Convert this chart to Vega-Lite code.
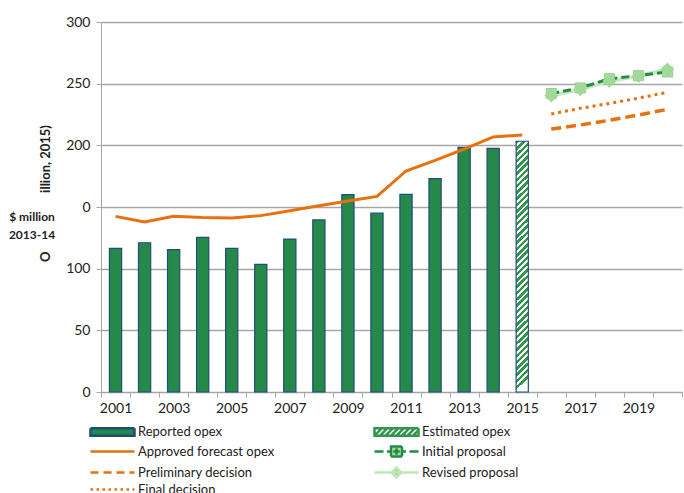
{
  "$schema": "https://vega.github.io/schema/vega-lite/v6.json",
  "width": 581,
  "height": 370,
  "autosize": {"type": "none"},
  "padding": {"left": 101, "top": 22, "right": 2, "bottom": 101},
  "background": "white",
  "title": {"text": ["$ million", "2013-14"], "orient": "top", "anchor": "start", "frame": "group", "align": "center", "baseline": "top", "dx": -69, "dy": 227, "offset": 0, "font": "Lato", "fontSize": 12, "fontWeight": "bold", "color": "#222222", "lineHeight": 18},
  "config": {"view": {"stroke": null}, "font": "Lato"},
  "data": {"values": [
    {"year": 2001, "series": "Reported opex", "value": 116.5},
    {"year": 2002, "series": "Reported opex", "value": 121},
    {"year": 2003, "series": "Reported opex", "value": 115.4},
    {"year": 2004, "series": "Reported opex", "value": 125.4},
    {"year": 2005, "series": "Reported opex", "value": 116.5},
    {"year": 2006, "series": "Reported opex", "value": 103.5},
    {"year": 2007, "series": "Reported opex", "value": 124},
    {"year": 2008, "series": "Reported opex", "value": 139.5},
    {"year": 2009, "series": "Reported opex", "value": 160},
    {"year": 2010, "series": "Reported opex", "value": 145},
    {"year": 2011, "series": "Reported opex", "value": 160.3},
    {"year": 2012, "series": "Reported opex", "value": 173},
    {"year": 2013, "series": "Reported opex", "value": 198.4},
    {"year": 2014, "series": "Reported opex", "value": 197.6},
    {"year": 2015, "series": "Estimated opex", "value": 203.3},
    {"year": 2001, "series": "Approved forecast opex", "value": 142.4},
    {"year": 2002, "series": "Approved forecast opex", "value": 137.8},
    {"year": 2003, "series": "Approved forecast opex", "value": 142.4},
    {"year": 2004, "series": "Approved forecast opex", "value": 141.4},
    {"year": 2005, "series": "Approved forecast opex", "value": 141.1},
    {"year": 2006, "series": "Approved forecast opex", "value": 143},
    {"year": 2007, "series": "Approved forecast opex", "value": 147},
    {"year": 2008, "series": "Approved forecast opex", "value": 151},
    {"year": 2009, "series": "Approved forecast opex", "value": 154.9},
    {"year": 2010, "series": "Approved forecast opex", "value": 158.6},
    {"year": 2011, "series": "Approved forecast opex", "value": 179.2},
    {"year": 2012, "series": "Approved forecast opex", "value": 187.8},
    {"year": 2013, "series": "Approved forecast opex", "value": 197},
    {"year": 2014, "series": "Approved forecast opex", "value": 206.8},
    {"year": 2015, "series": "Approved forecast opex", "value": 208.4},
    {"year": 2016, "series": "Initial proposal", "value": 242},
    {"year": 2017, "series": "Initial proposal", "value": 246.5},
    {"year": 2018, "series": "Initial proposal", "value": 254},
    {"year": 2019, "series": "Initial proposal", "value": 256.5},
    {"year": 2020, "series": "Initial proposal", "value": 259.5},
    {"year": 2016, "series": "Revised proposal", "value": 240.3},
    {"year": 2017, "series": "Revised proposal", "value": 245.4},
    {"year": 2018, "series": "Revised proposal", "value": 252.2},
    {"year": 2019, "series": "Revised proposal", "value": 256.2},
    {"year": 2020, "series": "Revised proposal", "value": 261.5},
    {"year": 2016, "series": "Preliminary decision", "value": 213.2},
    {"year": 2017, "series": "Preliminary decision", "value": 216.5},
    {"year": 2018, "series": "Preliminary decision", "value": 220.3},
    {"year": 2019, "series": "Preliminary decision", "value": 224.6},
    {"year": 2020, "series": "Preliminary decision", "value": 229.2},
    {"year": 2016, "series": "Final decision", "value": 225.4},
    {"year": 2017, "series": "Final decision", "value": 230},
    {"year": 2018, "series": "Final decision", "value": 234},
    {"year": 2019, "series": "Final decision", "value": 238.3},
    {"year": 2020, "series": "Final decision", "value": 243}
  ]},
  "encoding": {
    "x": {"field": "year", "type": "ordinal",
      "scale": {"domain": [2001,2002,2003,2004,2005,2006,2007,2008,2009,2010,2011,2012,2013,2014,2015,2016,2017,2018,2019,2020], "paddingInner": 0, "paddingOuter": 0},
      "axis": {"title": null, "labelExpr": "datum.value % 2 == 1 ? datum.label : ''", "labelAngle": 0, "labelOverlap": false, "tickBand": "extent", "ticks": true, "tickSize": 5, "tickColor": "#A6A6A6", "tickWidth": 1, "domainColor": "#A6A6A6", "domainWidth": 1, "labelFont": "Lato", "labelFontSize": 14, "labelColor": "#222222", "labelPadding": 4, "grid": false}},
    "y": {"field": "value", "type": "quantitative",
      "scale": {"domain": [0, 300]},
      "axis": {"title": "O\u2003\u2003\u2003\u2003\u2003\u2003illion, 2015)", "values": [0,50,100,150,200,250,300], "labelExpr": "datum.value == 150 ? '0' : datum.label", "grid": true, "gridColor": "#A6A6A6", "gridWidth": 1.5, "domainColor": "#A6A6A6", "tickColor": "#A6A6A6", "tickSize": 5, "labelPadding": 6, "labelFont": "Lato", "labelFontSize": 14, "labelColor": "#222222", "titleFont": "Lato", "titleFontSize": 13, "titleFontWeight": "bold", "titleColor": "#222222", "titleAngle": 270, "titleAlign": "center", "titleBaseline": "alphabetic", "titleX": -52, "titleY": 171}}
  },
  "layer": [
    {
      "transform": [{"filter": "datum.series == 'Reported opex'"}],
      "mark": {"type": "bar", "width": {"band": 0.42}, "fill": "#26894A", "stroke": "#1F4E79", "strokeWidth": 1.2}
    },
    {
      "transform": [{"filter": "datum.series == 'Estimated opex'"}],
      "mark": {"type": "bar", "width": {"band": 0.42}, "stroke": "#1F4E79", "strokeWidth": 1.2,
        "fill": {"gradient": "linear", "x1": 0, "y1": 0, "x2": 0.048, "y2": 1, "stops": [
{"offset":0,"color":"#33964F"},{"offset":0.014,"color":"#33964F"},{"offset":0.014,"color":"#FFFFFF"},{"offset":0.025,"color":"#FFFFFF"},
{"offset":0.025,"color":"#33964F"},{"offset":0.039,"color":"#33964F"},{"offset":0.039,"color":"#FFFFFF"},{"offset":0.05,"color":"#FFFFFF"},
{"offset":0.05,"color":"#33964F"},{"offset":0.064,"color":"#33964F"},{"offset":0.064,"color":"#FFFFFF"},{"offset":0.075,"color":"#FFFFFF"},
{"offset":0.075,"color":"#33964F"},{"offset":0.089,"color":"#33964F"},{"offset":0.089,"color":"#FFFFFF"},{"offset":0.1,"color":"#FFFFFF"},
{"offset":0.1,"color":"#33964F"},{"offset":0.114,"color":"#33964F"},{"offset":0.114,"color":"#FFFFFF"},{"offset":0.125,"color":"#FFFFFF"},
{"offset":0.125,"color":"#33964F"},{"offset":0.139,"color":"#33964F"},{"offset":0.139,"color":"#FFFFFF"},{"offset":0.15,"color":"#FFFFFF"},
{"offset":0.15,"color":"#33964F"},{"offset":0.164,"color":"#33964F"},{"offset":0.164,"color":"#FFFFFF"},{"offset":0.175,"color":"#FFFFFF"},
{"offset":0.175,"color":"#33964F"},{"offset":0.189,"color":"#33964F"},{"offset":0.189,"color":"#FFFFFF"},{"offset":0.2,"color":"#FFFFFF"},
{"offset":0.2,"color":"#33964F"},{"offset":0.214,"color":"#33964F"},{"offset":0.214,"color":"#FFFFFF"},{"offset":0.225,"color":"#FFFFFF"},
{"offset":0.225,"color":"#33964F"},{"offset":0.239,"color":"#33964F"},{"offset":0.239,"color":"#FFFFFF"},{"offset":0.25,"color":"#FFFFFF"},
{"offset":0.25,"color":"#33964F"},{"offset":0.264,"color":"#33964F"},{"offset":0.264,"color":"#FFFFFF"},{"offset":0.275,"color":"#FFFFFF"},
{"offset":0.275,"color":"#33964F"},{"offset":0.289,"color":"#33964F"},{"offset":0.289,"color":"#FFFFFF"},{"offset":0.3,"color":"#FFFFFF"},
{"offset":0.3,"color":"#33964F"},{"offset":0.314,"color":"#33964F"},{"offset":0.314,"color":"#FFFFFF"},{"offset":0.325,"color":"#FFFFFF"},
{"offset":0.325,"color":"#33964F"},{"offset":0.339,"color":"#33964F"},{"offset":0.339,"color":"#FFFFFF"},{"offset":0.35,"color":"#FFFFFF"},
{"offset":0.35,"color":"#33964F"},{"offset":0.364,"color":"#33964F"},{"offset":0.364,"color":"#FFFFFF"},{"offset":0.375,"color":"#FFFFFF"},
{"offset":0.375,"color":"#33964F"},{"offset":0.389,"color":"#33964F"},{"offset":0.389,"color":"#FFFFFF"},{"offset":0.4,"color":"#FFFFFF"},
{"offset":0.4,"color":"#33964F"},{"offset":0.414,"color":"#33964F"},{"offset":0.414,"color":"#FFFFFF"},{"offset":0.425,"color":"#FFFFFF"},
{"offset":0.425,"color":"#33964F"},{"offset":0.439,"color":"#33964F"},{"offset":0.439,"color":"#FFFFFF"},{"offset":0.45,"color":"#FFFFFF"},
{"offset":0.45,"color":"#33964F"},{"offset":0.464,"color":"#33964F"},{"offset":0.464,"color":"#FFFFFF"},{"offset":0.475,"color":"#FFFFFF"},
{"offset":0.475,"color":"#33964F"},{"offset":0.489,"color":"#33964F"},{"offset":0.489,"color":"#FFFFFF"},{"offset":0.5,"color":"#FFFFFF"},
{"offset":0.5,"color":"#33964F"},{"offset":0.514,"color":"#33964F"},{"offset":0.514,"color":"#FFFFFF"},{"offset":0.525,"color":"#FFFFFF"},
{"offset":0.525,"color":"#33964F"},{"offset":0.539,"color":"#33964F"},{"offset":0.539,"color":"#FFFFFF"},{"offset":0.55,"color":"#FFFFFF"},
{"offset":0.55,"color":"#33964F"},{"offset":0.564,"color":"#33964F"},{"offset":0.564,"color":"#FFFFFF"},{"offset":0.575,"color":"#FFFFFF"},
{"offset":0.575,"color":"#33964F"},{"offset":0.589,"color":"#33964F"},{"offset":0.589,"color":"#FFFFFF"},{"offset":0.6,"color":"#FFFFFF"},
{"offset":0.6,"color":"#33964F"},{"offset":0.614,"color":"#33964F"},{"offset":0.614,"color":"#FFFFFF"},{"offset":0.625,"color":"#FFFFFF"},
{"offset":0.625,"color":"#33964F"},{"offset":0.639,"color":"#33964F"},{"offset":0.639,"color":"#FFFFFF"},{"offset":0.65,"color":"#FFFFFF"},
{"offset":0.65,"color":"#33964F"},{"offset":0.664,"color":"#33964F"},{"offset":0.664,"color":"#FFFFFF"},{"offset":0.675,"color":"#FFFFFF"},
{"offset":0.675,"color":"#33964F"},{"offset":0.689,"color":"#33964F"},{"offset":0.689,"color":"#FFFFFF"},{"offset":0.7,"color":"#FFFFFF"},
{"offset":0.7,"color":"#33964F"},{"offset":0.714,"color":"#33964F"},{"offset":0.714,"color":"#FFFFFF"},{"offset":0.725,"color":"#FFFFFF"},
{"offset":0.725,"color":"#33964F"},{"offset":0.739,"color":"#33964F"},{"offset":0.739,"color":"#FFFFFF"},{"offset":0.75,"color":"#FFFFFF"},
{"offset":0.75,"color":"#33964F"},{"offset":0.764,"color":"#33964F"},{"offset":0.764,"color":"#FFFFFF"},{"offset":0.775,"color":"#FFFFFF"},
{"offset":0.775,"color":"#33964F"},{"offset":0.789,"color":"#33964F"},{"offset":0.789,"color":"#FFFFFF"},{"offset":0.8,"color":"#FFFFFF"},
{"offset":0.8,"color":"#33964F"},{"offset":0.814,"color":"#33964F"},{"offset":0.814,"color":"#FFFFFF"},{"offset":0.825,"color":"#FFFFFF"},
{"offset":0.825,"color":"#33964F"},{"offset":0.839,"color":"#33964F"},{"offset":0.839,"color":"#FFFFFF"},{"offset":0.85,"color":"#FFFFFF"},
{"offset":0.85,"color":"#33964F"},{"offset":0.864,"color":"#33964F"},{"offset":0.864,"color":"#FFFFFF"},{"offset":0.875,"color":"#FFFFFF"},
{"offset":0.875,"color":"#33964F"},{"offset":0.889,"color":"#33964F"},{"offset":0.889,"color":"#FFFFFF"},{"offset":0.9,"color":"#FFFFFF"},
{"offset":0.9,"color":"#33964F"},{"offset":0.914,"color":"#33964F"},{"offset":0.914,"color":"#FFFFFF"},{"offset":0.925,"color":"#FFFFFF"},
{"offset":0.925,"color":"#33964F"},{"offset":0.939,"color":"#33964F"},{"offset":0.939,"color":"#FFFFFF"},{"offset":0.95,"color":"#FFFFFF"},
{"offset":0.95,"color":"#33964F"},{"offset":0.964,"color":"#33964F"},{"offset":0.964,"color":"#FFFFFF"},{"offset":0.975,"color":"#FFFFFF"},
{"offset":0.975,"color":"#33964F"},{"offset":0.989,"color":"#33964F"},{"offset":0.989,"color":"#FFFFFF"},{"offset":1,"color":"#FFFFFF"}
        ]}}
    },
    {
      "transform": [{"filter": "datum.series == 'Approved forecast opex'"}],
      "mark": {"type": "line", "color": "#E8700E", "strokeWidth": 3}
    },
    {
      "transform": [{"filter": "datum.series == 'Preliminary decision'"}],
      "mark": {"type": "line", "color": "#E8700E", "strokeWidth": 3.5, "strokeDash": [10, 5]}
    },
    {
      "transform": [{"filter": "datum.series == 'Final decision'"}],
      "mark": {"type": "line", "color": "#E8700E", "strokeWidth": 3, "strokeDash": [3, 4]}
    },
    {
      "transform": [{"filter": "datum.series == 'Revised proposal'"}],
      "mark": {"type": "line", "color": "#C7E9C0", "strokeWidth": 4}
    },
    {
      "transform": [{"filter": "datum.series == 'Initial proposal'"}],
      "mark": {"type": "line", "color": "#238B45", "strokeWidth": 3, "strokeDash": [8, 4]}
    },
    {
      "transform": [{"filter": "datum.series == 'Initial proposal'"}],
      "mark": {"type": "point", "shape": "square", "size": 100, "filled": true, "fill": "#A8DCA0", "stroke": "#93CF8A", "strokeWidth": 1, "opacity": 1}
    },
    {
      "transform": [{"filter": "datum.series == 'Initial proposal'"}],
      "mark": {"type": "point", "shape": "M-1,0H1M0,-1V1", "size": 50, "filled": false, "stroke": "#3E9E58", "strokeWidth": 1.5, "opacity": 1}
    },
    {
      "transform": [{"filter": "datum.series == 'Revised proposal'"}],
      "mark": {"type": "point", "shape": "diamond", "size": 190, "filled": true, "fill": "#A1D99B", "opacity": 1}
    },
    {
      "transform": [{"filter": "false"}],
      "mark": {"type": "point", "opacity": 1},
      "encoding": {
        "fill": {"field": "series", "type": "nominal",
          "scale": {"domain": ["Reported opex", "Estimated opex", "Approved forecast opex", "Initial proposal", "Preliminary decision", "Revised proposal", "Final decision"],
                    "range": ["#26894A", "#FFFFFF", "transparent", "#A8DCA0", "transparent", "#A1D99B", "transparent"]},
          "legend": {"title": null, "orient": "none", "legendX": -11, "legendY": 403, "columns": 2, "direction": "horizontal", "symbolSize": 100, "symbolStrokeWidth": 2.5, "symbolOpacity": 1, "labelOffset": 35, "columnPadding": 94, "rowPadding": 0, "labelFont": "Lato", "labelFontSize": 13, "labelColor": "#222222", "labelLimit": 300}},
        "stroke": {"field": "series", "type": "nominal",
          "scale": {"domain": ["Reported opex", "Estimated opex", "Approved forecast opex", "Initial proposal", "Preliminary decision", "Revised proposal", "Final decision"],
                    "range": ["#1F4E79", "#33964F", "#E8700E", "#238B45", "#E8700E", "#C2E6BB", "#E8700E"]}},
        "shape": {"field": "series", "type": "nominal",
          "scale": {"domain": ["Reported opex", "Estimated opex", "Approved forecast opex", "Initial proposal", "Preliminary decision", "Revised proposal", "Final decision"],
                    "range": [
                      "M-1.2,-0.75H7.6V0.75H-1.2Z",
                      "M-1.2,-0.75H7.6V0.75H-1.2ZM-1.2,0.75L0.3,-0.75M-0.1,0.75L1.4,-0.75M1,0.75L2.5,-0.75M2.1,0.75L3.6,-0.75M3.2,0.75L4.7,-0.75M4.3,0.75L5.8,-0.75M5.4,0.75L6.9,-0.75M6.5,0.75L7.6,-0.35",
                      "M-1.2,0H7.6",
                      "M-1.2,0H0.6M1.3,0H2.1M4.3,0H5.1M5.8,0H7.6M2.1,-1H4.3V1H2.1ZM3.2,-0.65V0.65M2.55,0H3.85",
                      "M-1.2,0H7.6",
                      "M-1.2,0H7.6M3.2,-1L4.2,0L3.2,1L2.2,0Z",
                      "M-1.2,0H7.6"
                    ]}},
        "strokeDash": {"field": "series", "type": "nominal",
          "scale": {"domain": ["Reported opex", "Estimated opex", "Approved forecast opex", "Initial proposal", "Preliminary decision", "Revised proposal", "Final decision"],
                    "range": [[1, 0], [1, 0], [1, 0], [1, 0], [8, 5], [1, 0], [2.5, 3.5]]}}
      }
    }
  ]
}
